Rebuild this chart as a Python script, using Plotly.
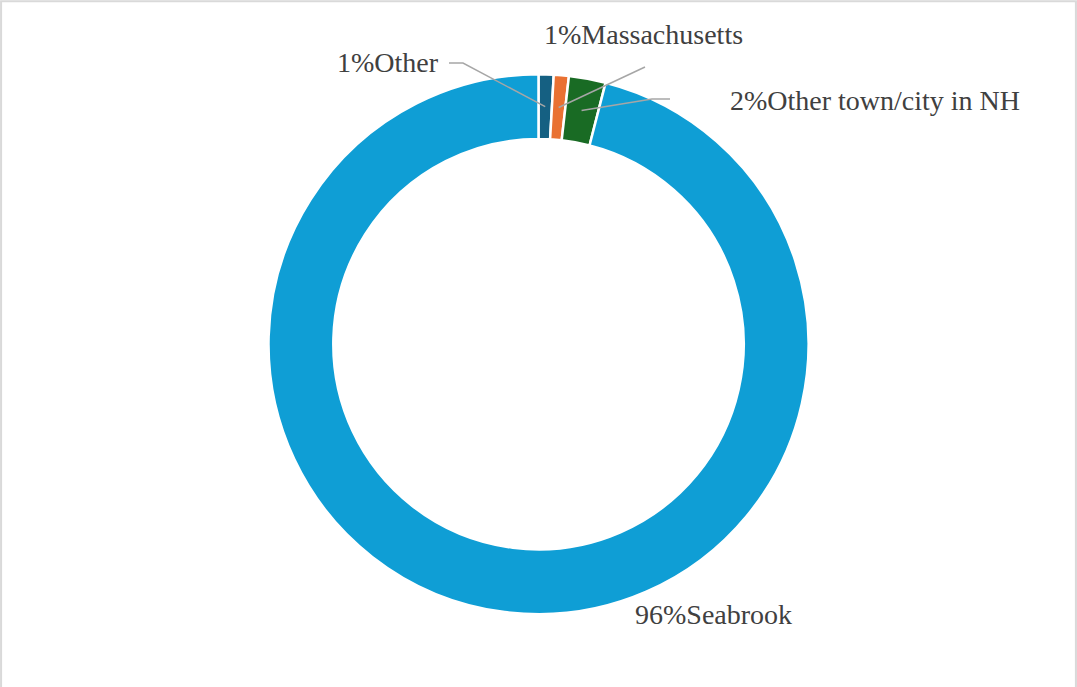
import math
import plotly.graph_objects as go

labels = ["Other", "Massachusetts", "Other town/city in NH", "Seabrook"]
values = [0.9, 0.9, 2.2, 96.0]
colors = ["#156082", "#E97132", "#196B24", "#0F9ED5"]

W, H = 1077, 687
dom_y = [0.106, 0.892]
hole = 0.76

# label layout (pixel positions of label text and leader-line elbows)
label_pos = [  # (x, y, xanchor, elbow or None, has_line)
    (441, 63, "right", (449, 63, 463, 63), True),
    (643, 35, "center", (645, 67, 645, 67), True),
    (728, 101, "left", (670, 99, 652, 99), True),
    (633, 614, "left", None, False),
]

fig = go.Figure(go.Pie(
    labels=labels,
    values=values,
    hole=hole,
    sort=False,
    direction="clockwise",
    rotation=0,
    marker=dict(colors=colors, line=dict(color="white", width=2.5)),
    textinfo="none",
    showlegend=False,
    domain=dict(x=[0, 1], y=dom_y),
))

# pie geometry in pixels
cx = W / 2
cy = H * (1 - (dom_y[0] + dom_y[1]) / 2)
R = H * (dom_y[1] - dom_y[0]) / 2
r_mid = R * (1 + hole) / 2

total = sum(values)
shapes = [dict(type="rect", xref="paper", yref="paper", x0=0.001, y0=-0.01, x1=0.999, y1=0.998,
               line=dict(color="#D9D9D9", width=2))]
annotations = []
cum = 0.0
for lab, v, (tx, ty, xa, elbow, has_line) in zip(labels, values, label_pos):
    mid = (cum + v / 2) / total * 2 * math.pi
    cum += v
    pct = round(v / total * 100)
    annotations.append(dict(
        x=tx / W, y=1 - ty / H, xref="paper", yref="paper",
        text=f"{pct}%{lab}", showarrow=False, xanchor=xa, yanchor="middle",
        font=dict(family="Liberation Serif", size=28, color="#404040"),
    ))
    if has_line:
        px = cx + r_mid * math.sin(mid)
        py = cy - r_mid * math.cos(mid)
        pts = [(elbow[0], elbow[1]), (elbow[2], elbow[3]), (px, py)]
        path = "M " + " L ".join(f"{x / W},{1 - y / H}" for x, y in pts)
        shapes.append(dict(type="path", xref="paper", yref="paper", path=path,
                           line=dict(color="#A6A6A6", width=1.5)))

fig.update_layout(
    width=W, height=H,
    margin=dict(l=0, r=0, t=0, b=0),
    paper_bgcolor="white",
    shapes=shapes,
    annotations=annotations,
)

fig.write_html("out.html", config={"displayModeBar": False},
               post_script="document.body.style.margin='0';document.body.style.overflow='hidden';")
